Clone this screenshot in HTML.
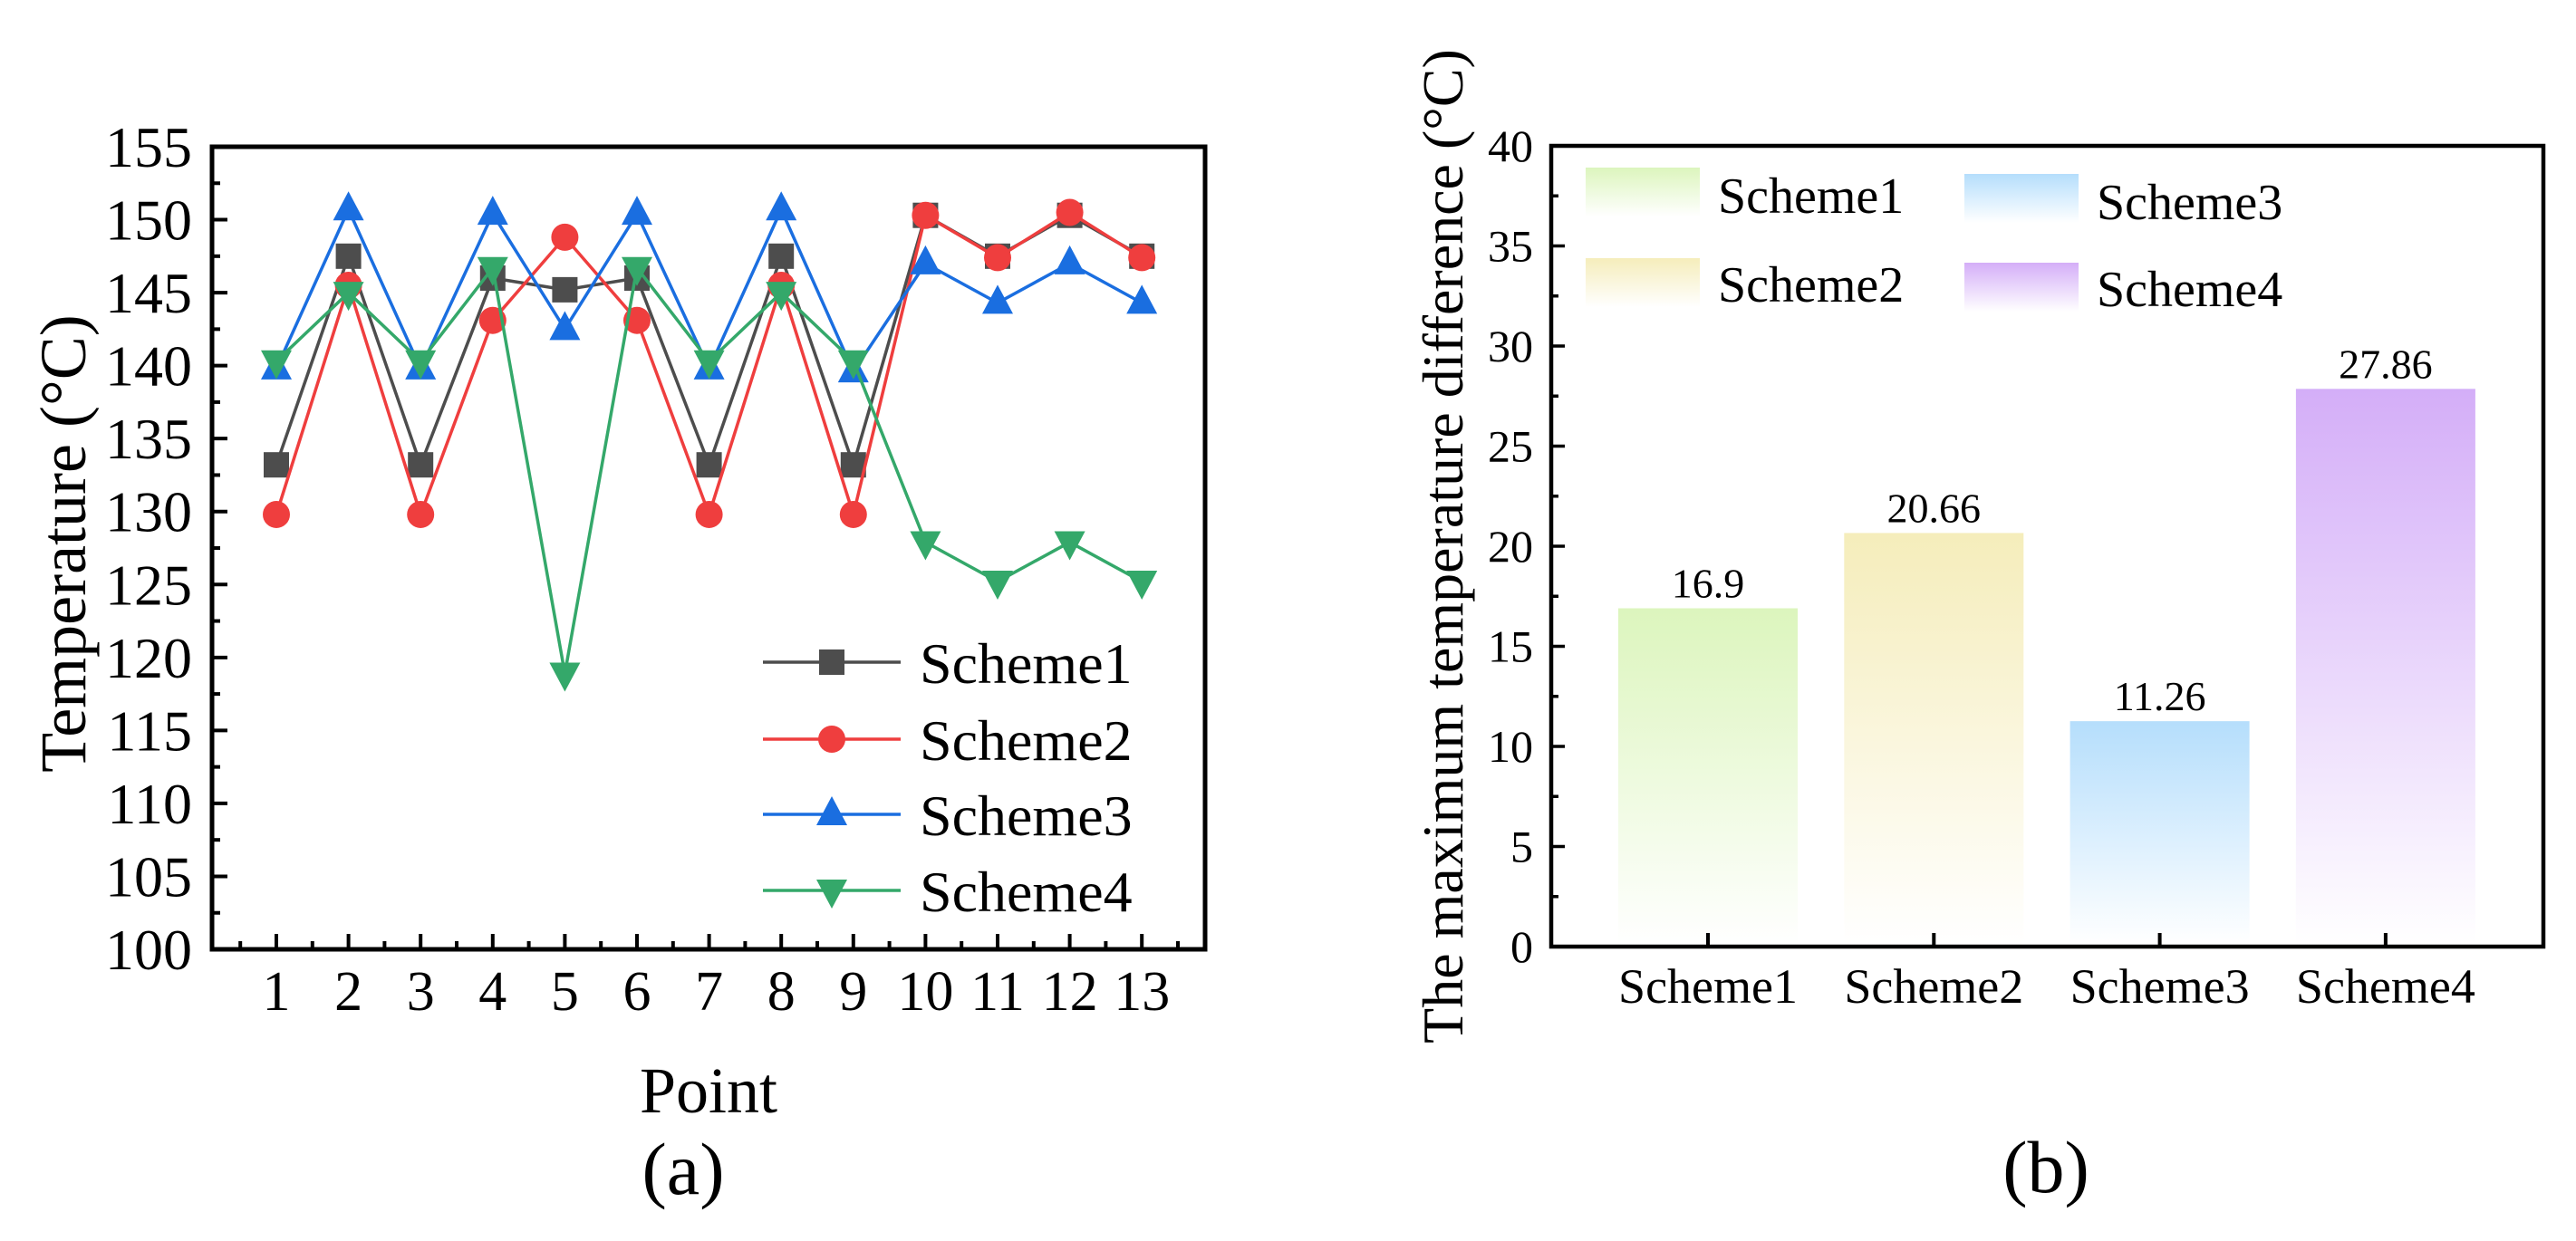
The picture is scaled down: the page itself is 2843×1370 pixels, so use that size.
<!DOCTYPE html>
<html><head><meta charset="utf-8"><style>
html,body{margin:0;padding:0;background:#fff;}
svg, svg text{font-family:"Liberation Serif","DejaVu Serif",serif;}
</style></head><body>
<svg id="fig" width="2843" height="1365" viewBox="0 0 2843 1365" xmlns="http://www.w3.org/2000/svg" font-family="Liberation Serif, serif">
<defs>
<linearGradient id="g1" x1="0" y1="0" x2="0" y2="1"><stop offset="0" stop-color="#dcf5bd"/><stop offset="1" stop-color="#ffffff"/></linearGradient>
<linearGradient id="g2" x1="0" y1="0" x2="0" y2="1"><stop offset="0" stop-color="#f5edbb"/><stop offset="1" stop-color="#ffffff"/></linearGradient>
<linearGradient id="g3" x1="0" y1="0" x2="0" y2="1"><stop offset="0" stop-color="#b5defc"/><stop offset="1" stop-color="#ffffff"/></linearGradient>
<linearGradient id="g4" x1="0" y1="0" x2="0" y2="1"><stop offset="0" stop-color="#d4aef8"/><stop offset="1" stop-color="#ffffff"/></linearGradient>
</defs>
<g id="left"></g>
<g id="right"></g>
</svg>
<script>
const points = [1,2,3,4,5,6,7,8,9,10,11,12,13];
const scheme1 = [133.2,147.5,133.2,146.0,145.2,146.0,133.2,147.5,133.2,150.3,147.5,150.3,147.5];
const scheme2 = [129.8,145.5,129.8,143.1,148.8,143.1,129.8,145.5,129.8,150.3,147.4,150.5,147.4];
const scheme3 = [139.8,150.7,139.8,150.4,142.5,150.4,139.8,150.7,139.6,147.0,144.3,147.0,144.3];
const scheme4 = [140.3,145.0,140.3,146.7,118.9,146.7,140.3,145.0,140.3,127.9,125.2,127.9,125.2];
const yTicksA = [100,105,110,115,120,125,130,135,140,145,150,155];
const barCats = ["Scheme1","Scheme2","Scheme3","Scheme4"];
const barVals = [16.9,20.66,11.26,27.86];
const barLabels = ["16.9","20.66","11.26","27.86"];
const yTicksB = [0,5,10,15,20,25,30,35,40];

const NS="http://www.w3.org/2000/svg";
function mk(tag,attrs,parent,txt){
  const e=document.createElementNS(NS,tag);
  if(txt!==undefined){
    const fs=+attrs['font-size'];
    const k=fs/50;
    const x=+(attrs.x||0), y=+(attrs.y||0);
    const pre=attrs.transform?attrs.transform+' ':'';
    attrs=Object.assign({},attrs,{x:0,y:0,'font-size':50,transform:pre+`translate(${x},${y}) scale(${k})`});
    e.setAttribute('font-family','Liberation Serif, serif');
    e.textContent=txt;
  }
  for(const k in attrs)e.setAttribute(k,attrs[k]);
  parent.appendChild(e);return e;}

// ---- Left chart ----
const L=document.getElementById('left');
const aL=234,aR=1330,aT=162,aB=1048;
const xA=i=>305+(i-1)*79.6;
const yA=v=>aB-(v-100)*(aB-aT)/55;
for(const v of yTicksA){
  const t=mk('text',{x:212,y:yA(v)+22,'text-anchor':'end','font-size':64},L,String(v));
  
  
  if(v<155) mk('line',{x1:aL,x2:aL+17,y1:yA(v),y2:yA(v),stroke:'#000','stroke-width':4},L);
  if(v<155) mk('line',{x1:aL,x2:aL+9,y1:yA(v+2.5),y2:yA(v+2.5),stroke:'#000','stroke-width':4},L);
}
for(const p of points){
  const t=mk('text',{x:xA(p),y:1115,'text-anchor':'middle','font-size':62},L,String(p));
  
  
  mk('line',{x1:xA(p),x2:xA(p),y1:aB,y2:aB-17,stroke:'#000','stroke-width':4},L);
}
for(let p=0.5;p<=13.5;p+=1){mk('line',{x1:xA(p),x2:xA(p),y1:aB,y2:aB-9,stroke:'#000','stroke-width':4},L);}
const fr=mk('rect',{x:aL,y:aT,width:aR-aL,height:aB-aT,fill:'none',stroke:'#000','stroke-width':5},L);


const series=[[scheme1,'#4d4d4d','sq','Scheme1'],[scheme2,'#ef3e3e','ci','Scheme2'],[scheme3,'#1a6ee0','up','Scheme3'],[scheme4,'#34a86a','dn','Scheme4']];
function marker(g,type,x,y,c){
  if(type==='sq') return mk('rect',{x:x-14,y:y-14,width:28,height:28,fill:c},g);
  if(type==='ci') return mk('circle',{cx:x,cy:y,r:15,fill:c},g);
  if(type==='up') return mk('polygon',{points:`${x},${y-20} ${x-17},${y+12} ${x+17},${y+12}`,fill:c},g);
  return mk('polygon',{points:`${x},${y+20} ${x-17},${y-12} ${x+17},${y-12}`,fill:c},g);
}
series.forEach((s,si)=>{
  const g=mk('g',{},L);
  
  
  mk('polyline',{points:s[0].map((v,i)=>xA(points[i])+','+yA(v)).join(' '),fill:'none',stroke:s[1],'stroke-width':3.5},g);
  s[0].forEach((v,i)=>{const m=marker(g,s[2],xA(points[i]),yA(v),s[1]);
    
    });
  const ly=[731,816,899,983][si];
  const lg=mk('g',{},L);
  
  
  mk('line',{x1:842,x2:994,y1:ly,y2:ly,stroke:s[1],'stroke-width':3.5},lg);
  marker(lg,s[2],918,ly,s[1]);
  mk('text',{x:1015,y:ly+23,'font-size':64},lg,s[3]);
});
let t=mk('text',{x:782,y:1228,'text-anchor':'middle','font-size':72},L,'Point');


t=mk('text',{x:0,y:0,'text-anchor':'middle','font-size':72,transform:'translate(94,600) rotate(-90)'},L,'Temperature (°C)');


t=mk('text',{x:754,y:1318,'text-anchor':'middle','font-size':82},L,'(a)');



// ---- Right chart ----
const R=document.getElementById('right');
const bL=1712,bR=2807,bT=161,bB=1045;
const yB=v=>bB-v*(bB-bT)/40;
const xB=i=>1885+i*249.3;
const bw=198;
barVals.forEach((v,i)=>{
  const r=mk('rect',{x:xB(i)-bw/2,y:yB(v),width:bw,height:bB-yB(v)-2,fill:'url(#g'+(i+1)+')'},R);
  
  
  const vl=mk('text',{x:xB(i),y:yB(v)-12,'text-anchor':'middle','font-size':46},R,barLabels[i]);
  
  
  const xl=mk('text',{x:xB(i),y:1107,'text-anchor':'middle','font-size':54},R,barCats[i]);
  
  
  mk('line',{x1:xB(i),x2:xB(i),y1:bB,y2:bB-15,stroke:'#000','stroke-width':4},R);
});
for(const v of yTicksB){
  const tl=mk('text',{x:1692,y:yB(v)+17,'text-anchor':'end','font-size':50},R,String(v));
  
  
  if(v<40){mk('line',{x1:bL,x2:bL+15,y1:yB(v),y2:yB(v),stroke:'#000','stroke-width':3.5},R);
    mk('line',{x1:bL,x2:bL+8,y1:yB(v+2.5),y2:yB(v+2.5),stroke:'#000','stroke-width':3.5},R);}
}
const fr2=mk('rect',{x:bL,y:bT,width:bR-bL,height:bB-bT,fill:'none',stroke:'#000','stroke-width':4.5},R);


const legPos=[[1750,185,1896,235],[1750,285,1896,333],[2168,192,2314,242],[2168,290,2314,338]];
barCats.forEach((c,i)=>{
  const p=legPos[i];
  const lg=mk('g',{},R);
  
  
  mk('rect',{x:p[0],y:p[1],width:126,height:54,fill:'url(#g'+(i+1)+')'},lg);
  mk('text',{x:p[2],y:p[3],'font-size':56},lg,c);
});
t=mk('text',{x:0,y:0,'text-anchor':'middle','font-size':64,transform:'translate(1614,603) rotate(-90)'},R,'The maximum temperature difference (°C)');


t=mk('text',{x:2258,y:1316,'text-anchor':'middle','font-size':82},R,'(b)');


</script>
</body></html>
